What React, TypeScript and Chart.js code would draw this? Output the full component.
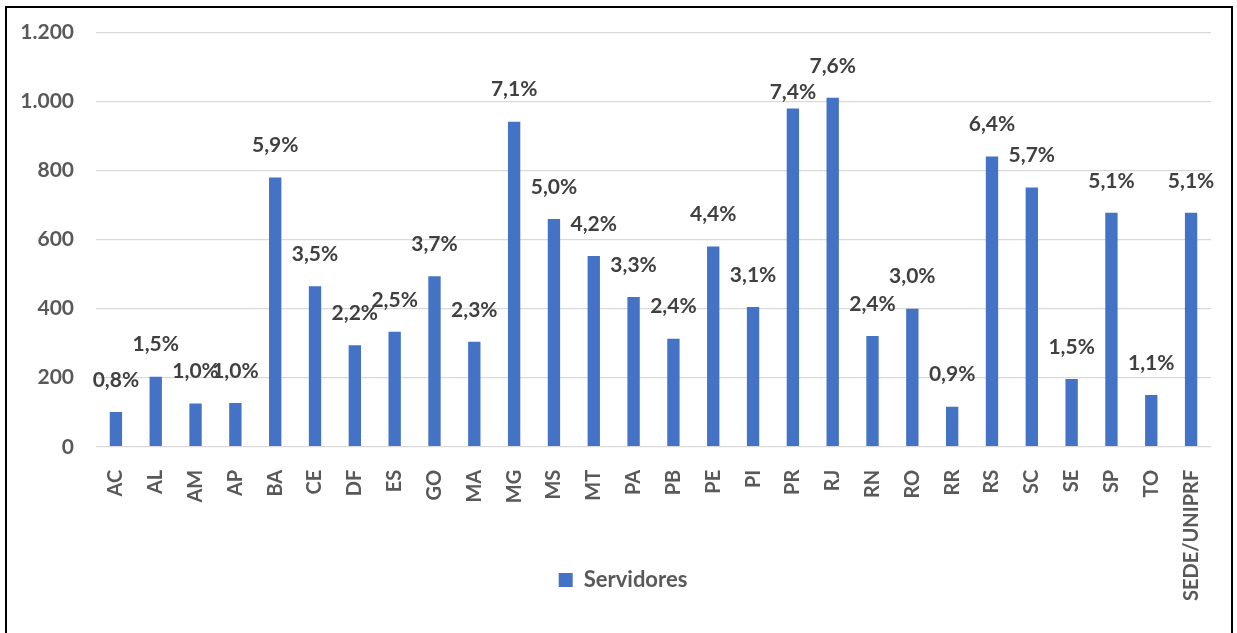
import React, { useEffect, useRef } from 'react';
import { Chart, registerables } from 'chart.js';

Chart.register(...registerables);

const categories = ['AC', 'AL', 'AM', 'AP', 'BA', 'CE', 'DF', 'ES', 'GO', 'MA', 'MG', 'MS', 'MT', 'PA', 'PB', 'PE', 'PI', 'PR', 'RJ', 'RN', 'RO', 'RR', 'RS', 'SC', 'SE', 'SP', 'TO', 'SEDE/UNIPRF'];
const servidores = [101, 203, 125, 127, 780, 465, 294, 333, 494, 304, 942, 660, 553, 434, 313, 580, 405, 980, 1011, 321, 400, 116, 841, 751, 196, 678, 150, 678];
const percentLabels = ['0,8%', '1,5%', '1,0%', '1,0%', '5,9%', '3,5%', '2,2%', '2,5%', '3,7%', '2,3%', '7,1%', '5,0%', '4,2%', '3,3%', '2,4%', '4,4%', '3,1%', '7,4%', '7,6%', '2,4%', '3,0%', '0,9%', '6,4%', '5,7%', '1,5%', '5,1%', '1,1%', '5,1%'];
const seriesName = 'Servidores';
const yMax = 1200;
const yStep = 200;

const FONT = 'Lato, "Open Sans", sans-serif';

const formatThousands = (v: number) => String(v).replace(/\B(?=(\d{3})+(?!\d))/g, '.');

const dataLabelPlugin = {
  id: 'dataLabels',
  afterDatasetsDraw(chart: any, _args: any, opts: any) {
    const ctx = chart.ctx;
    const meta = chart.getDatasetMeta(0);
    ctx.save();
    ctx.font = `bold ${opts.size}px ${FONT}`;
    ctx.fillStyle = opts.color;
    ctx.textAlign = 'center';
    ctx.textBaseline = 'middle';
    meta.data.forEach((bar: any, i: number) => {
      const lowered = (opts.lowered || []).includes(categories[i]);
      const off = lowered ? opts.lowOffset : opts.offset;
      ctx.fillText(percentLabels[i], bar.x, bar.y - off);
    });
    ctx.restore();
  },
};

// Lift the legend so it sits beside the long rotated category labels, as in the original.
const legendShiftPlugin = {
  id: 'legendShift',
  afterLayout(chart: any, _args: any, opts: any) {
    const lg = chart.legend;
    if (!lg) return;
    const center = (lg.top + lg.bottom) / 2;
    const dy = center - opts.centerY;
    lg.top -= dy;
    lg.bottom -= dy;
    lg.left += opts.dx;
    lg.right += opts.dx;
    if (lg.legendHitBoxes) lg.legendHitBoxes.forEach((h: any) => { h.top -= dy; h.left += opts.dx; });
  },
};

export default function App() {
  const ref = useRef<HTMLCanvasElement | null>(null);

  useEffect(() => {
    if (!ref.current) return;
    const chart = new Chart(ref.current, {
      type: 'bar',
      data: {
        labels: categories,
        datasets: [
          {
            label: seriesName,
            data: servidores,
            backgroundColor: '#4472C4',
            borderWidth: 0,
            categoryPercentage: 1,
            barPercentage: 0.31,
          },
        ],
      },
      options: {
        responsive: false,
        animation: false,
        layout: { padding: { top: 0, right: 20, bottom: 0, left: 0 } },
        plugins: {
          legend: {
            position: 'bottom',
            labels: {
              boxWidth: 14,
              boxHeight: 14,
              color: '#595959',
              font: { family: FONT, size: 22, weight: 'bold' },
              padding: 10,
            },
          },
          tooltip: { enabled: false },
          dataLabels: { size: 21, color: '#404040', offset: 32, lowOffset: 16, lowered: ['PR'] },
          legendShift: { centerY: 582, dx: 14 },
        } as any,
        scales: {
          x: {
            grid: { display: false },
            border: { display: false },
            ticks: {
              color: '#595959',
              font: { family: FONT, size: 20, weight: 'bold' },
              minRotation: 90,
              maxRotation: 90,
              padding: 15,
              autoSkip: false,
            },
          },
          y: {
            min: 0,
            max: yMax,
            grid: { color: '#D9D9D9', lineWidth: 1.3, drawTicks: false },
            border: { display: false },
            ticks: {
              stepSize: yStep,
              color: '#595959',
              font: { family: FONT, size: 21, weight: 'bold' },
              padding: 22,
              callback: (v: any) => formatThousands(Number(v)),
            },
            afterFit: (scale: any) => {
              scale.width = 89;
            },
          },
        },
      },
      plugins: [dataLabelPlugin, legendShiftPlugin],
    });
    return () => chart.destroy();
  }, []);

  return (
    <div
      style={{
        position: 'fixed',
        left: 5,
        top: 6,
        width: 1228,
        height: 660,
        border: '2px solid #000',
        boxSizing: 'border-box',
        background: '#fff',
        overflow: 'hidden',
      }}
    >
      <canvas ref={ref} width={1224} height={660} style={{ display: 'block', marginTop: -10 }} />
    </div>
  );
}
